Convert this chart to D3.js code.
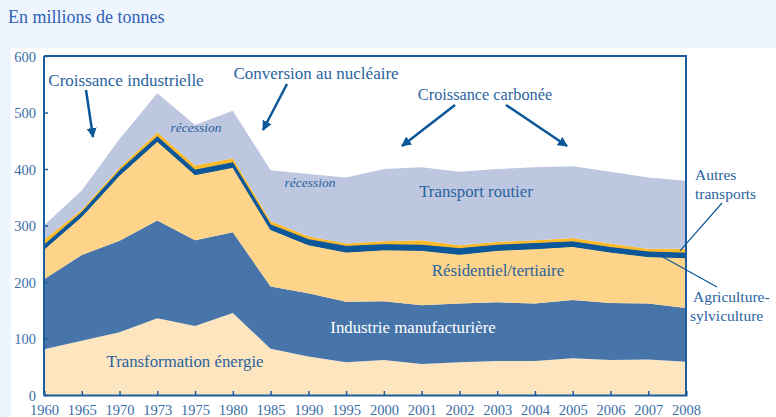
<!DOCTYPE html>
<html>
<head>
<meta charset="utf-8">
<script src="https://cdn.jsdelivr.net/npm/d3@7"></script>
<style>
  body { margin: 0; background: #fff; }
  svg { display: block; }
  svg text { font-family: "Liberation Serif", "Times New Roman", serif; }
</style>
</head>
<body>
<div id="chart"></div>
<script>
const years = ['1960', '1965', '1970', '1973', '1975', '1980', '1985', '1990', '1995', '2000',
    '2001', '2002', '2003', '2004', '2005', '2006', '2007', '2008']

// millions de tonnes
const energie = [81, 96, 111, 136, 122, 145, 82, 68, 58, 62, 55, 58, 60, 60, 65, 62, 63, 59]
const industrie = [124, 152, 162, 173, 152, 143, 110, 112, 107, 104, 104, 104, 104, 102, 103, 101, 99, 95]
const residentiel = [53, 68, 116, 140, 116, 115, 101, 86, 88, 91, 97, 87, 92, 97, 95, 90, 83, 89]
const agriculture = [7, 7, 8, 8, 8, 8, 8, 9, 10, 9, 9, 10, 9, 9, 8, 8, 8, 8]
const autresTransports = [10, 5, 5, 8, 8, 8, 7, 6, 5, 6, 9, 6, 6, 6, 7, 7, 6, 8]
const routier = [25, 34, 51, 69, 72, 84, 90, 110, 117, 128, 129, 130, 129, 129, 127, 127, 126, 120]

const yTicks = [0, 100, 200, 300, 400, 500, 600]

const seriesNames = ['energie', 'industrie', 'residentiel', 'agriculture', 'autres', 'routier']
const seriesColors = ['#fde6bf', '#4775aa', '#fdd489', '#0b5799', '#fbb92c', '#bdc7df']

const width = 776
const height = 417
const plotLeft = 44
const plotRight = 686
const plotTop = 56
const plotBottom = 395
const blue = '#1d5d9e'
const textBlue = '#2a63a0'

const table = years.map((yr, i) => ({
    year: yr,
    energie: energie[i],
    industrie: industrie[i],
    residentiel: residentiel[i],
    agriculture: agriculture[i],
    autres: autresTransports[i],
    routier: routier[i]
}))

const stack = d3.stack().keys(seriesNames)
const layers = stack(table)

const x = d3.scalePoint().domain(years).range([plotLeft, plotRight])
const y = d3.scaleLinear().domain([0, 600]).range([plotBottom, plotTop])

const svg = d3.select('#chart').append('svg')
    .attr('width', width)
    .attr('height', height)
    .attr('font-family', '\'Liberation Serif\', serif')

// background bands
svg.append('rect').attr('x', 0).attr('y', 0).attr('width', width).attr('height', 48).attr('fill', '#eef5fd')
svg.append('rect').attr('x', 0).attr('y', 48).attr('width', 11).attr('height', height - 48).attr('fill', '#eef5fd')

svg.append('text')
    .attr('x', 8)
    .attr('y', 23)
    .attr('font-size', 18)
    .attr('fill', '#2f62b8')
    .text('En millions de tonnes')

const area = d3.area()
    .x(d => x(d.data.year))
    .y0(d => y(d[0]))
    .y1(d => y(d[1]))

svg.append('g')
    .selectAll('path')
    .data(layers)
    .enter()
    .append('path')
    .attr('d', area)
    .attr('fill', (d, i) => seriesColors[i])

// agriculture band is a thick line in the original
svg.append('path')
    .datum(layers[3])
    .attr('d', area)
    .attr('fill', seriesColors[3])
    .attr('stroke', seriesColors[3])
    .attr('stroke-width', 1)
    .attr('stroke-linejoin', 'round')

// frame
svg.append('path')
    .attr('d', `M${plotLeft},${plotTop}H${plotRight}V${plotBottom}`)
    .attr('fill', 'none')
    .attr('stroke', blue)
    .attr('stroke-width', 2)

const yAxis = d3.axisLeft(y).tickValues(yTicks).tickSize(-4).tickPadding(8)
const xAxis = d3.axisBottom(x).tickSize(-4).tickPadding(10)

const gy = svg.append('g').attr('transform', `translate(${plotLeft},0)`).call(yAxis)
const gx = svg.append('g').attr('transform', `translate(0,${plotBottom})`).call(xAxis)

for (const g of [gx, gy]) {
    g.attr('font-family', null)
    g.select('.domain').attr('stroke', blue).attr('stroke-width', 2)
    g.selectAll('.tick line').attr('stroke', blue).attr('stroke-width', 1.5)
    g.selectAll('.tick text')
        .attr('fill', '#3a6ea6')
        .attr('font-size', 14.5)
}
gy.select('.domain').attr('d', `M0,${plotTop}V${plotBottom}`)
gy.selectAll('.tick text').attr('x', -8).attr('dy', '0.35em')
gx.selectAll('.tick text').attr('dy', '0.71em')

// labels inside areas: text, centre x, baseline y, colour, style, size
const labels = [
    ['Transport routier', 476, 197, textBlue, 'normal', 16.8],
    ['Résidentiel/tertiaire', 498, 276, textBlue, 'normal', 16.8],
    ['Industrie manufacturière', 413, 333, '#ffffff', 'normal', 16.8],
    ['Transformation énergie', 185, 367, textBlue, 'normal', 16.8],
    ['récession', 196, 132, textBlue, 'italic', 13.5],
    ['récession', 310, 187, textBlue, 'italic', 13.5]
]
svg.append('g')
    .selectAll('text')
    .data(labels)
    .enter()
    .append('text')
    .attr('x', d => d[1])
    .attr('y', d => d[2])
    .attr('text-anchor', 'middle')
    .attr('fill', d => d[3])
    .attr('font-style', d => d[4])
    .attr('font-size', d => d[5])
    .text(d => d[0])

// annotations
svg.append('defs').append('marker')
    .attr('id', 'head')
    .attr('viewBox', '0 0 10 10')
    .attr('refX', 9)
    .attr('refY', 5)
    .attr('markerWidth', 4)
    .attr('markerHeight', 4)
    .attr('orient', 'auto')
    .append('path')
    .attr('d', 'M0,0L10,5L0,10Z')
    .attr('fill', '#0b5799')

const notes = [
    ['Croissance industrielle', 126, 86, 17],
    ['Conversion au nucléaire', 316, 79, 17],
    ['Croissance carbonée', 485, 100, 16.3]
]
svg.append('g')
    .selectAll('text')
    .data(notes)
    .enter()
    .append('text')
    .attr('x', d => d[1])
    .attr('y', d => d[2])
    .attr('text-anchor', 'middle')
    .attr('fill', textBlue)
    .attr('font-size', d => d[3])
    .text(d => d[0])

const arrows = [
    [86, 90, 93, 137],
    [287, 84, 263, 130],
    [455, 105, 402, 146],
    [506, 105, 567, 146]
]
svg.append('g')
    .selectAll('line')
    .data(arrows)
    .enter()
    .append('line')
    .attr('x1', d => d[0])
    .attr('y1', d => d[1])
    .attr('x2', d => d[2])
    .attr('y2', d => d[3])
    .attr('stroke', '#0b5799')
    .attr('stroke-width', 2.5)
    .attr('marker-end', 'url(#head)')

// side labels
const side = svg.append('g').attr('fill', textBlue).attr('font-size', 15.5)
side.append('text').attr('x', 695).attr('y', 180).text('Autres')
side.append('text').attr('x', 695).attr('y', 199).text('transports')
side.append('text').attr('x', 693).attr('y', 302).text('Agriculture-')
side.append('text').attr('x', 690).attr('y', 321).text('sylviculture')

svg.append('line')
    .attr('x1', 722).attr('y1', 203)
    .attr('x2', x('2008') - 6).attr('y2', y(255))
    .attr('stroke', '#0b5799').attr('stroke-width', 1.2)
svg.append('line')
    .attr('x1', x('2007') + 12).attr('y1', y(247))
    .attr('x2', 717).attr('y2', 287)
    .attr('stroke', '#0b5799').attr('stroke-width', 1.2)
</script>
</body>
</html>
